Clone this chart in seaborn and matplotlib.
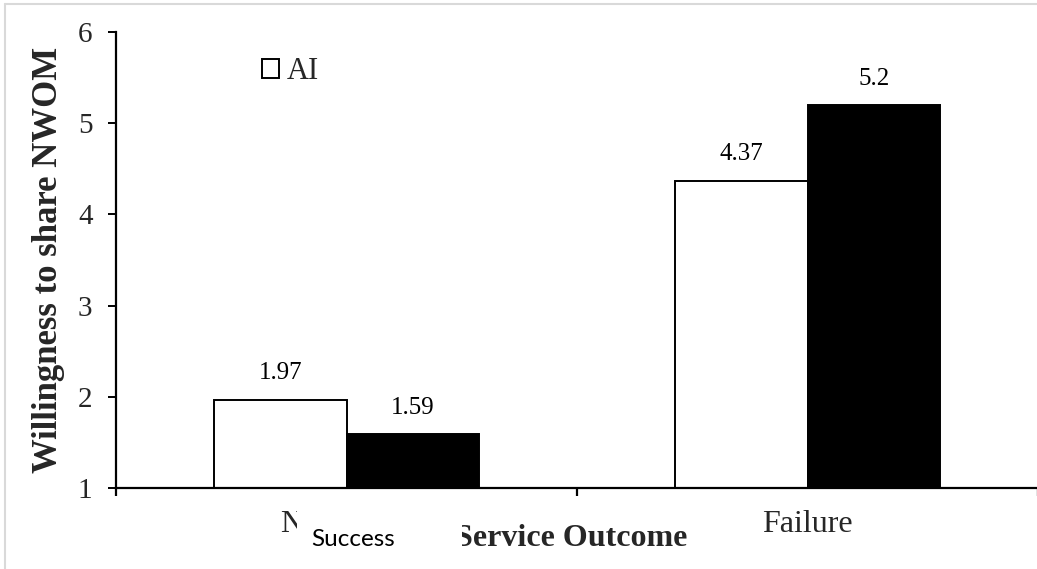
import matplotlib
matplotlib.use("Agg")
import matplotlib.pyplot as plt
from matplotlib.lines import Line2D
from matplotlib.patches import Rectangle
import seaborn as sns
import pandas as pd

# Data
outcomes = ["No failure", "Failure"]
agents = ["AI", "Human"]
ai_values = [1.97, 4.37]
human_values = [1.59, 5.2]
y_ticks = [1, 2, 3, 4, 5, 6]

df = pd.DataFrame({
    "outcome": outcomes * 2,
    "agent": [agents[0]] * 2 + [agents[1]] * 2,
    "value": ai_values + human_values,
})

sns.set_theme(style="white")
plt.rcParams["font.family"] = ["Liberation Serif", "DejaVu Serif"]

fig = plt.figure(figsize=(10.37, 5.69), dpi=100)
ax = fig.add_axes([0.112, 0.1424, 0.889, 0.8014])

sns.barplot(data=df, x="outcome", y="value", hue="agent", order=outcomes,
            hue_order=agents, palette=["white", "black"], width=0.575,
            edgecolor="black", linewidth=1.4, saturation=1, ax=ax)

# value labels above each bar
for cont in ax.containers:
    ax.bar_label(cont, labels=[f"{v:g}" for v in cont.datavalues],
                 padding=11, fontsize=18, color="black")

ax.set_ylim(1, 6)
ax.set_yticks(y_ticks)
ax.set_xlim(-0.5, 1.5)

for s in ["top", "right"]:
    ax.spines[s].set_visible(False)
for s in ["left", "bottom"]:
    ax.spines[s].set_color("black")
    ax.spines[s].set_linewidth(1.6)

ax.tick_params(axis="y", which="major", direction="out", length=6, width=1.4,
               color="black", labelsize=21, pad=11, left=True)
ax.tick_params(axis="x", which="major", length=0, labelsize=23, pad=16)
ax.set_xticks([-0.5, 0.5, 1.5], minor=True)
ax.tick_params(axis="x", which="minor", direction="out", length=6, width=1.6,
               color="black", bottom=True)

ax.set_ylabel("Willingness to share NWOM", fontsize=25, fontweight="bold",
              labelpad=9)
ax.set_xlabel("Service Outcome", fontsize=23, fontweight="bold")
ax.xaxis.set_label_coords(0.4935, -0.110)
ax.xaxis.label.set_va("center")

# white caption box laid over the first category label
ax.add_patch(Rectangle((0.196, -0.17), 0.179, 0.14, transform=ax.transAxes,
                       facecolor="white", edgecolor="none", clip_on=False,
                       zorder=10))
ax.text(0.2115, -0.1125, "Success", transform=ax.transAxes, ha="left",
        va="center", fontsize=17.5, family="Lato", color="black", zorder=11)

handles, labels = ax.get_legend_handles_labels()
ax.legend(handles[:1], labels[:1], loc="upper left",
          bbox_to_anchor=(0.158, 0.945), frameon=False, fontsize=22,
          handlelength=0.57, handleheight=0.57, handletextpad=0.25,
          borderpad=0, borderaxespad=0)

# thin frame along the left and top edges of the figure
fig.add_artist(Line2D([0.005, 0.005], [0.0, 0.993], color="#d9d9d9", lw=1.5,
                      transform=fig.transFigure))
fig.add_artist(Line2D([0.005, 1.0], [0.993, 0.993], color="#d9d9d9", lw=1.5,
                      transform=fig.transFigure))

fig.savefig("out.png", dpi=100, facecolor="white")
